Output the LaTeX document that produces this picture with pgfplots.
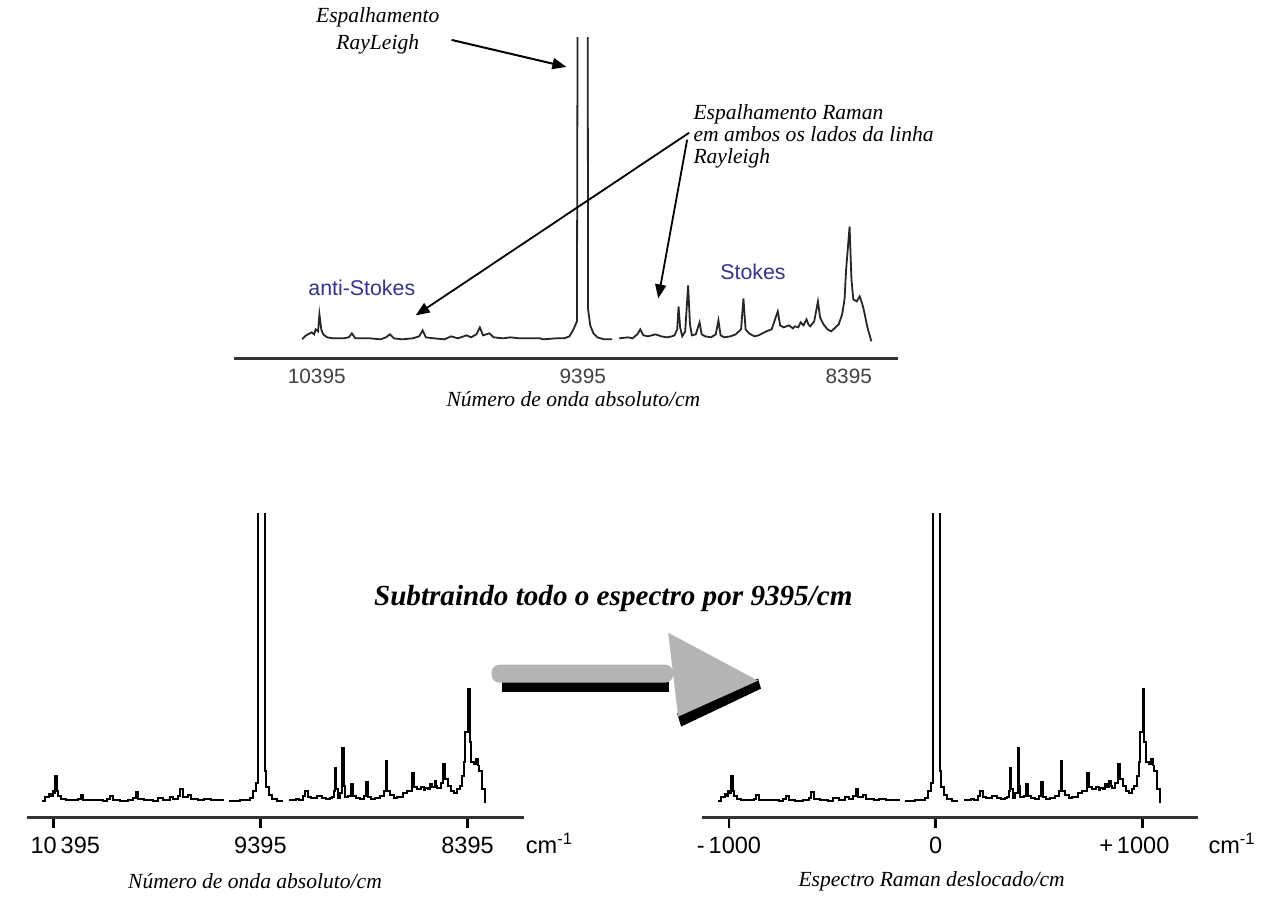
\documentclass[border=0pt]{standalone}
\usepackage{pgfplots}
\pgfplotsset{compat=1.18}
\usepackage{pgfplotstable}
\usepackage{fontspec}
\setmainfont{Liberation Serif}
\setsansfont{Liberation Sans}
\usetikzlibrary{arrows.meta}
\definecolor{stokesblue}{RGB}{52,52,150}
\definecolor{arrowgray}{RGB}{180,180,180}

% wn = absolute wavenumber (cm^-1), s = Raman shift (cm^-1), y = intensity (bottom, with gaps), ytop = intensity (top)
\pgfplotstableread{
wn s y ytop
10450 -1055 0 0
10435 -1040 4 4
10414 -1019 7 7
10405 -1010 5 5
10399 -1004 10 10
10390 -995 8 8
10385 -990 25 25
10378 -983 10 10
10371 -976 5 5
10356 -961 2 2
10335 -940 1 1
10295 -900 1 1
10275 -880 2 2
10263 -868 6 6
10250 -855 1 1
10195 -800 1 1
10155 -760 0 0
10135 -740 2 2
10120 -725 5 5
10105 -710 1 1
10075 -680 0 0
10035 -640 1 1
10010 -615 3 3
9997 -602 9 9
9985 -590 2 2
9955 -560 1 1
9915 -520 0 0
9890 -495 3 3
9865 -470 1 1
9832 -437 4 4
9815 -420 2 2
9795 -400 5 5
9782 -387 12 12
9770 -375 4 4
9746 -351 6 6
9730 -335 2 2
9695 -300 1 1
9667 -272 2 2
9635 -240 1 1
9595 -200 1 1
9570 -175 1 1
9555 -160 nan 1
9545 -150 0 0
9495 -100 1 1
9465 -70 1 1
9445 -50 3 3
9430 -35 10 10
9417 -22 18 18
9409 -14 1000 1000
9380 15 1000 1000
9375 20 30 30
9367 28 14 14
9355 40 6 6
9340 55 2 2
9315 80 0 0
9285 110 0 0
9270 125 nan nan
9258 137 1 1
9225 170 2 2
9208 187 1 1
9190 205 5 5
9179 216 10 10
9167 228 4 4
9150 245 3 3
9121 274 5 5
9100 295 3 3
9078 317 2 2
9060 335 3 3
9050 345 4 4
9040 355 10 10
9035 360 33 33
9029 366 12 12
9021 374 3 3
9010 385 8 8
8999 396 54 54
8992 403 15 15
8985 410 4 4
8970 425 5 5
8956 439 17 17
8948 447 5 5
8935 460 3 3
8913 482 2 2
8895 500 5 5
8885 510 19 19
8877 518 4 4
8863 532 2 2
8840 555 3 3
8820 575 5 5
8800 595 10 10
8791 604 41 41
8783 612 10 10
8770 625 6 6
8750 645 3 3
8734 661 4 4
8705 690 8 8
8685 710 10 10
8662 733 28 28
8653 742 14 14
8640 755 12 12
8620 775 14 14
8605 790 11 11
8598 797 13 13
8585 810 12 12
8576 819 17 17
8565 830 14 14
8554 841 20 20
8547 848 15 15
8540 855 13 13
8525 870 18 18
8511 884 38 38
8503 892 22 22
8490 905 15 15
8475 920 10 10
8461 934 8 8
8445 950 12 12
8433 962 15 15
8420 975 25 25
8411 984 40 40
8405 990 70 70
8392 1003 113 113
8385 1010 60 60
8378 1017 40 40
8365 1030 38 38
8354 1041 43 43
8345 1050 36 36
8339 1056 30 30
8325 1070 12 12
8310 1085 -2 -2
}\spec

\pgfplotsset{
  spec/.style={
    scale only axis, anchor=south west,
    axis x line=bottom, axis y line=none,
    axis line style={-, line width=1.5pt, black!80},
    unbounded coords=jump, clip=true, scaled x ticks=false,
  },
}
\newcommand{\ann}{\fontsize{10.8}{13.5}\selectfont\itshape}

\begin{document}
\begin{tikzpicture}
\begin{scope}[x=0.5pt, y=-0.5pt]
\useasboundingbox (0,0) rectangle (1269,894);
\fill[white] (0,0) rectangle (1269,894);
\end{scope}

% ---------- top spectrum ----------
\begin{axis}[spec, at={(116pt,-179.5pt)}, width=332.5pt, height=160.5pt,
  x dir=reverse, xmin=8211, xmax=10706, ymin=-19, ymax=302,
  xtick={10395,9395,8395}, xticklabels={10395,9395,8395},
  major tick length=0pt,
  xticklabel style={font=\sffamily\fontsize{10.4}{12}\selectfont, text=black!75, yshift=-2pt}]
\addplot[black!85, line width=0.9pt] table[x=wn, y=ytop]{\spec};
\end{axis}

% ---------- bottom left: absolute ----------
\begin{axis}[spec, at={(12.5pt,-409.5pt)}, width=249pt, height=152pt,
  x dir=reverse, xmin=8120, xmax=10520, ymin=-16, ymax=288,
  xtick={10395,9395,8395}, xticklabels={\hspace*{12pt}10\,395,9395,8395},
  xtick align=outside, major tick length=5.5pt,
  tick style={line width=1.2pt, black},
  xticklabel style={font=\sffamily\fontsize{11.8}{13}\selectfont, yshift=-1pt}]
\addplot[const plot, black, line width=1pt] table[x=wn, y=y]{\spec};
\end{axis}

% ---------- bottom right: shift ----------
\begin{axis}[spec, at={(350.5pt,-409.5pt)}, width=248.5pt, height=152pt,
  xmin=-1130, xmax=1270, ymin=-16, ymax=288,
  xtick={-1000,0,1000}, xticklabels={-\,1000,0,+\,1000\hspace*{8pt}},
  xtick align=outside, major tick length=5.5pt,
  tick style={line width=1.2pt, black},
  xticklabel style={font=\sffamily\fontsize{11.8}{13}\selectfont, yshift=-1pt}]
\addplot[const plot, black, line width=1pt] table[x=s, y=y]{\spec};
\end{axis}

\begin{scope}[x=0.5pt, y=-0.5pt]
% ---------- annotations top ----------
\node[align=center, font=\ann] at (376,31) {Espalhamento\\RayLeigh};
\draw[line width=1pt, -{Triangle[length=7pt,width=5.5pt]}] (450,40) -- (565,67);

\node[anchor=base west, font=\ann, inner sep=0pt] at (692,120) {Espalhamento Raman};
\node[anchor=base west, font=\ann, inner sep=0pt] at (692,142) {em ambos os lados da linha};
\node[anchor=base west, font=\ann, inner sep=0pt] at (692,164) {Rayleigh};
\draw[line width=0.9pt, -{Triangle[length=7pt,width=5.5pt]}] (688,133) -- (414,316);
\draw[line width=0.9pt, -{Triangle[length=7pt,width=5.5pt]}] (686,140) -- (657,299);

\node[text=stokesblue, font=\sffamily\fontsize{10.7}{12}\selectfont] at (360,288) {anti-Stokes};
\node[text=stokesblue, font=\sffamily\fontsize{10.7}{12}\selectfont] at (752,272) {Stokes};

\node[font=\ann] at (572,400) {Número de onda absoluto/cm};

% ---------- middle arrow and text ----------
\node[font=\fontsize{14.6}{17}\selectfont\bfseries\itshape] at (612,600) {Subtraindo todo o espectro por 9395/cm};
\fill[black] (500,683) rectangle (668,693);
\fill[arrowgray, rounded corners=4pt] (490,666) rectangle (672,684);
\fill[black] (676,715) -- (757,680) -- (760,690) -- (680,728) -- cycle;
\fill[arrowgray] (667,634) -- (757,682) -- (677,718) -- cycle;

% ---------- bottom labels ----------
\node[font=\sffamily\fontsize{11.8}{13}\selectfont] at (548,845) {cm\textsuperscript{-1}};
\node[font=\sffamily\fontsize{11.8}{13}\selectfont] at (1232,845) {cm\textsuperscript{-1}};
\node[font=\ann] at (253,883) {Número de onda absoluto/cm};
\node[font=\ann] at (931,883) {Espectro Raman deslocado/cm};
\end{scope}
\end{tikzpicture}
\end{document}
